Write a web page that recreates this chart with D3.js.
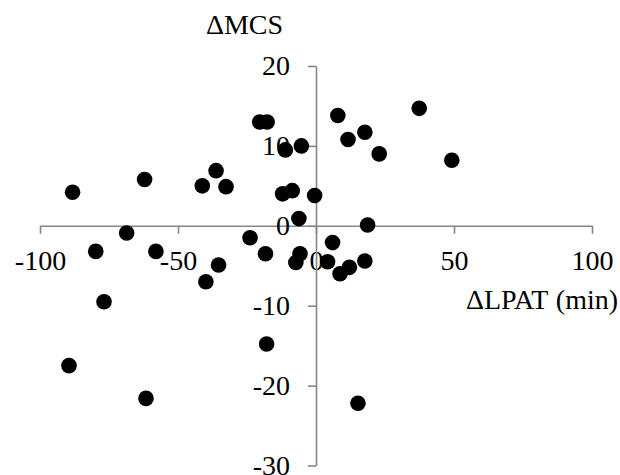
<!DOCTYPE html>
<html>
<head>
<meta charset="utf-8">
<script src="https://cdn.jsdelivr.net/npm/d3@7"></script>
<style>
  html, body { margin: 0; padding: 0; background: #fff; }
  svg { display: block; }
</style>
</head>
<body>
<svg id="chart" width="620" height="475"></svg>
<script>
// ΔLPAT (min)
const dLPAT = [
  -88.2, -62.1, -41.2, -36.2, -32.6, -20.4, -17.7, -11.1, -5.3, -12.1,
  -8.6, -0.5, -6.2, 7.9, 37.4, 17.7, 11.6, 22.9, 49.2, 18.7,
  6.0, -68.6, -79.8, -58.0, -23.9, -18.3, -35.3, -39.9, -5.8, -7.3,
  -76.8, -17.9, -89.5, -61.6, 4.2, 8.7, 12.1, 17.7, 15.2
];
// ΔMCS
const dMCS = [
  4.2, 5.8, 5.0, 6.9, 4.9, 13.0, 13.0, 9.5, 10.0, 4.0,
  4.4, 3.8, 0.9, 13.8, 14.7, 11.7, 10.8, 9.0, 8.2, 0.1,
  -2.1, -0.9, -3.2, -3.2, -1.5, -3.5, -4.9, -7.0, -3.5, -4.6,
  -9.5, -14.8, -17.5, -21.6, -4.5, -6.0, -5.2, -4.4, -22.2
];
const xTicks = [-100, -50, 0, 50, 100];
const yTicks = [-30, -20, -10, 0, 10, 20];
const xTitle = "ΔLPAT (min)";
const yTitle = "ΔMCS";

const svg = d3.select("#chart");
const x = d3.scaleLinear().domain([-100, 100]).range([40, 592]);
const y = d3.scaleLinear().domain([-30, 20]).range([465.5, 66]);

const axisColor = "#868686";
const font = "'Liberation Serif', 'Times New Roman', serif";

const xAxis = svg.append("g")
  .attr("transform", `translate(0,${y(0)})`)
  .call(d3.axisBottom(x).tickValues(xTicks).tickSize(8).tickSizeOuter(0).tickPadding(16).tickFormat(d3.format("d")));
const yAxis = svg.append("g")
  .attr("transform", `translate(${x(0)},0)`)
  .call(d3.axisLeft(y).tickValues(yTicks).tickSize(8).tickSizeOuter(0).tickPadding(18).tickFormat(d3.format("d")));

[xAxis, yAxis].forEach(g => {
  g.select(".domain").attr("stroke", axisColor).attr("stroke-width", 1.6);
  g.selectAll(".tick line").attr("stroke", axisColor).attr("stroke-width", 1.6);
  g.selectAll(".tick text")
    .attr("fill", "#000")
    .style("font-family", font)
    .style("font-size", "28px")
    .text(d => d < 0 ? "-" + Math.abs(d) : String(d));
});

const pts = dLPAT.map((v, i) => ({ x: v, y: dMCS[i] }));
svg.append("g").selectAll("circle")
  .data(pts)
  .join("circle")
  .attr("cx", d => x(d.x))
  .attr("cy", d => y(d.y))
  .attr("r", 7.8)
  .attr("fill", "#000");

svg.append("text")
  .attr("x", 466).attr("y", 309)
  .style("font-family", font).style("font-size", "28px")
  .style("word-spacing", "1px")
  .attr("fill", "#000")
  .text(xTitle);

svg.append("text")
  .attr("x", 244.5).attr("y", 34)
  .attr("text-anchor", "middle")
  .style("font-family", font).style("font-size", "28px")
  .attr("fill", "#000")
  .text(yTitle);
</script>
</body>
</html>
